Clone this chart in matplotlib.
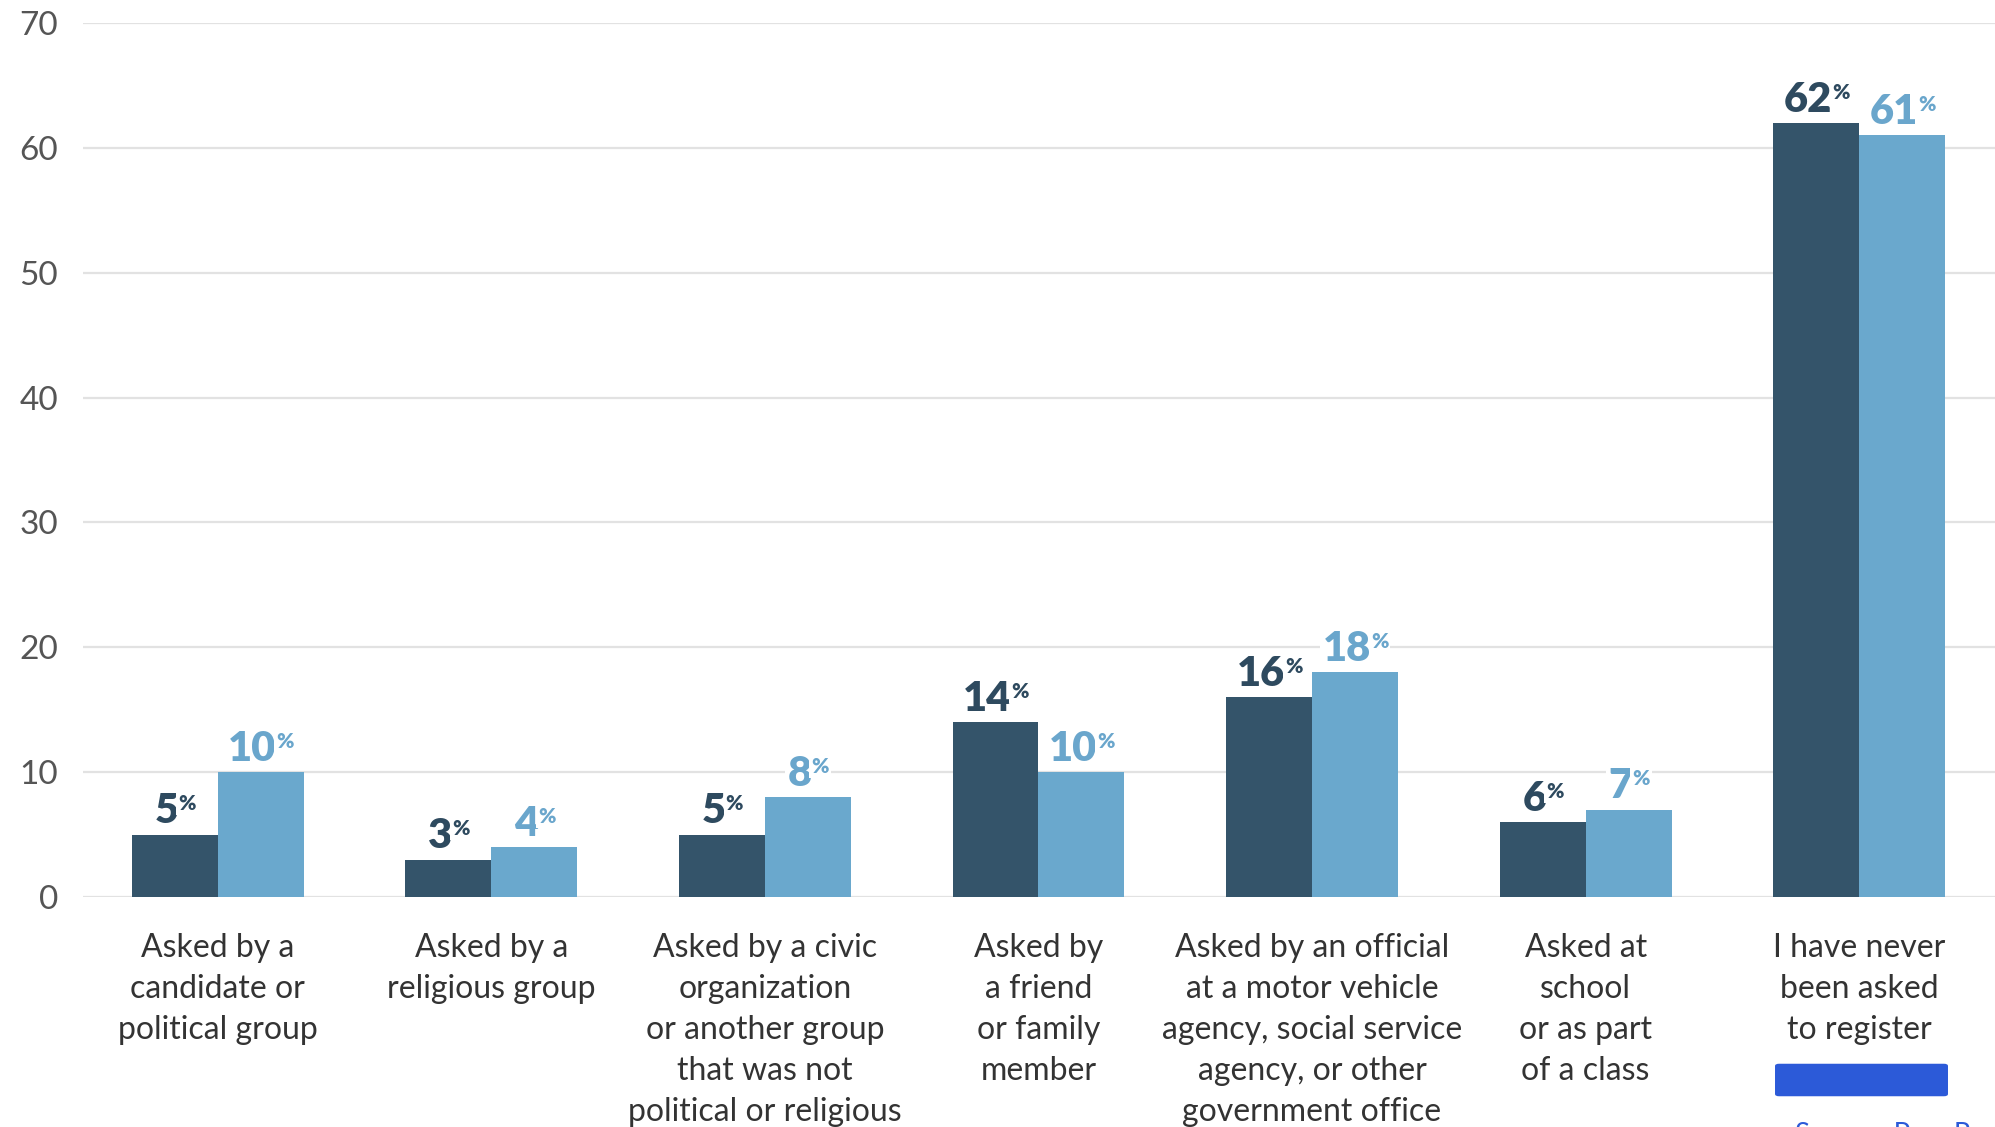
import numpy as np
import matplotlib
matplotlib.use("Agg")
import matplotlib.pyplot as plt
from matplotlib.patches import FancyBboxPatch

plt.rcParams["font.family"] = ["Lato", "DejaVu Sans"]

categories = [
    "Asked by a\ncandidate or\npolitical group",
    "Asked by a\nreligious group",
    "Asked by a civic\norganization\nor another group\nthat was not\npolitical or religious",
    "Asked by\na friend\nor family\nmember",
    "Asked by an official\nat a motor vehicle\nagency, social service\nagency, or other\ngovernment office",
    "Asked at\nschool\nor as part\nof a class",
    "I have never\nbeen asked\nto register",
]
dark_values = [5, 3, 5, 14, 16, 6, 62]
light_values = [10, 4, 8, 10, 18, 7, 61]
y_ticks = [0, 10, 20, 30, 40, 50, 60, 70]

DARK = "#34546a"
LIGHT = "#6aa8cd"
DARK_TXT = "#2e4a5f"
LIGHT_TXT = "#6aa6cc"

fig = plt.figure(figsize=(19.95, 11.27), dpi=100)
ax = fig.add_axes([0.0416, 0.2041, 0.9584, 0.7755])

x = np.arange(len(categories))
w = 0.314
ax.bar(x - w / 2, dark_values, width=w, color=DARK, zorder=3)
ax.bar(x + w / 2, light_values, width=w, color=LIGHT, zorder=3)


def value_label(xpos, val, color):
    num = ax.annotate(str(val), xy=(xpos, val), xytext=(-6, 8),
                      textcoords="offset points", ha="center", va="baseline",
                      fontsize=30, fontweight="heavy", color=color, zorder=5,
                      bbox=dict(boxstyle="square,pad=0.05", fc="white", ec="none"))
    ax.annotate("%", xy=(1.0, 0.95), xycoords=num, xytext=(0, 0),
                textcoords="offset points", ha="left", va="top",
                fontsize=15, fontweight="heavy", color=color, zorder=5,
                bbox=dict(boxstyle="square,pad=0.1", fc="white", ec="none"))


for i in range(len(categories)):
    value_label(x[i] - w / 2, dark_values[i], DARK_TXT)
    value_label(x[i] + w / 2, light_values[i], LIGHT_TXT)

ax.set_xlim(-0.492, 6.496)
ax.set_ylim(0, 70)
ax.set_yticks(y_ticks)
ax.set_yticklabels([str(t) for t in y_ticks], fontsize=24, color="#555555")
ax.set_xticks(x)
ax.set_xticklabels(categories, fontsize=23, color="#333333", linespacing=1.46)
ax.tick_params(axis="both", length=0)
ax.tick_params(axis="y", pad=18)
ax.tick_params(axis="x", pad=26)
ax.grid(axis="y", color="#e2e2e2", linewidth=1.6, zorder=0)
ax.set_axisbelow(True)
for s in ax.spines.values():
    s.set_visible(False)

# redaction mark and clipped source line at bottom right
fig.patches.append(FancyBboxPatch((1779 / 1995, (1127 - 1094) / 1127),
                                  165 / 1995, 28 / 1127,
                                  boxstyle="round,pad=0.002", fc="#2c5ad8",
                                  ec="none", transform=fig.transFigure))
fig.text(1795 / 1995, (1127 - 1122) / 1127, "Source: Pew Research",
         color="#2c5ad8", fontsize=20, va="top", ha="left")

plt.savefig("out.png", dpi=100)
